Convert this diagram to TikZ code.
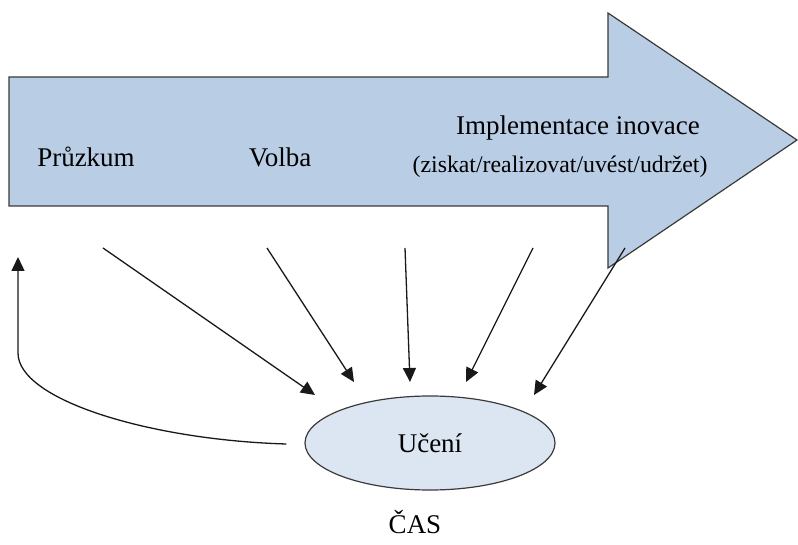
\documentclass[tikz,border=0pt]{standalone}
\usepackage{fontspec}
\setmainfont{Liberation Serif}
\usetikzlibrary{arrows.meta,shapes.geometric}
\definecolor{arrowfill}{HTML}{B9CDE5}
\definecolor{ellfill}{HTML}{DCE6F2}
\definecolor{edge}{HTML}{3A3A3A}
\tikzset{
  lbl/.style={inner sep=0pt, font=\fontsize{27}{30}\selectfont},
  lblsmall/.style={inner sep=0pt, font=\fontsize{23.8}{28}\selectfont},
  conn/.style={line width=1.3pt, color=black!90, -{Triangle[length=14pt,width=13pt]}},
}
\begin{document}
\begin{tikzpicture}[x=1pt,y=-1pt]
\useasboundingbox (0,0) rectangle (798,545);
% big arrow
\draw[fill=arrowfill, draw=edge, line width=1.2pt]
  (9,77) -- (608,77) -- (608,13) -- (797,140) -- (608,268) -- (608,206) -- (9,206) -- cycle;
\node[lbl] (pruzkum) at (86,157) {Průzkum};
\node[lbl] (volba) at (280,157) {Volba};
\node[lbl] (impl) at (578,128) {Implementace inovace};
\node[lblsmall] (impl2) at (560,167) {(ziskat/realizovat/uvést/udržet)};
% ellipse
\node[ellipse, draw=edge, fill=ellfill, line width=1.2pt, minimum width=250pt, minimum height=94pt, inner sep=0pt, font=\fontsize{27}{30}\selectfont] (uceni) at (430,443) {Učení};
\node[lbl] (cas) at (415,522) {ČAS};
% connector ends
\coordinate (s1) at (103,248); \coordinate (e1) at (315,395);
\coordinate (s2) at (267,248); \coordinate (e2) at (354,382);
\coordinate (s3) at (405,248); \coordinate (e3) at (410,382);
\coordinate (s4) at (533,248); \coordinate (e4) at (466,382);
\coordinate (s5) at (625,248); \coordinate (e5) at (534,395);
\coordinate (bk) at (18,353); \coordinate (bt) at (18,257);
\draw[conn] (s1) -- (e1);
\draw[conn] (s2) -- (e2);
\draw[conn] (s3) -- (e3);
\draw[conn] (s4) -- (e4);
\draw[conn] (s5) -- (e5);
\draw[conn] (uceni.west) ++(-18,1) .. controls (150,440) and (18,400) .. (bk) -- (bt);
\end{tikzpicture}
\end{document}
